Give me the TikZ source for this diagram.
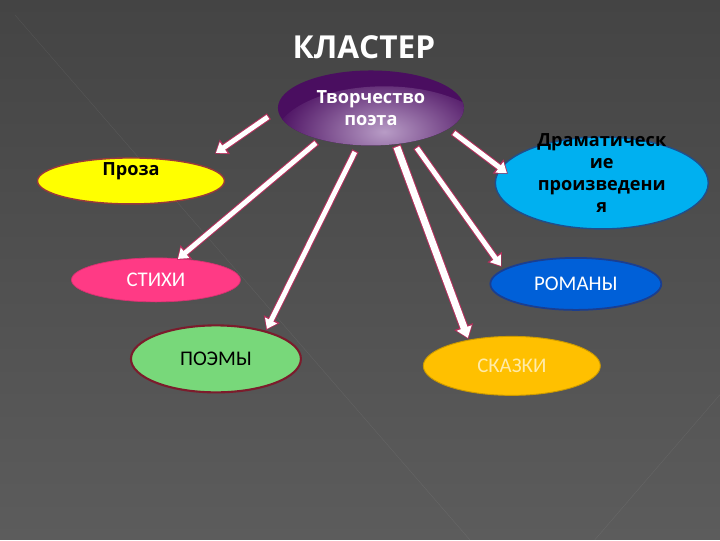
\documentclass[tikz,border=0pt]{standalone}
\usepackage{fontspec}
\setmainfont{Carlito}
\newfontfamily\headfont{Open Sans}
\usetikzlibrary{shapes.geometric,arrows.meta}

\definecolor{bgtop}{HTML}{444444}
\definecolor{bgbot}{HTML}{5C5C5C}
\definecolor{rim}{HTML}{B3305C}
\definecolor{poetdark}{HTML}{4A0E60}
\definecolor{poetlight}{HTML}{B89CC6}
\definecolor{prozafill}{HTML}{FFFF00}
\definecolor{prozarim}{HTML}{9A3A3A}
\definecolor{dramafill}{HTML}{00B0F0}
\definecolor{dramarim}{HTML}{1F4E8C}
\definecolor{stihifill}{HTML}{FF3A85}
\definecolor{poemyfill}{HTML}{78D87A}
\definecolor{poemyrim}{HTML}{7B1C2C}
\definecolor{romanyfill}{HTML}{0060D8}
\definecolor{romanyrim}{HTML}{1A3E90}
\definecolor{skazkifill}{HTML}{FFC000}
\definecolor{skazkitext}{HTML}{FFEBA8}

\begin{document}
\begin{tikzpicture}[x=0.03cm,y=-0.03cm,
	bubble/.style={ellipse,inner sep=0pt,font=\fontsize{17.8}{21}\selectfont},
	boldtext/.style={align=center,font=\headfont\bfseries\fontsize{15.5}{18.8}\selectfont},
	pointer/.style={draw=white,line width=4.2pt,-{Triangle[width=11pt,length=8pt]},
		preaction={draw=rim,line width=6pt,-{Triangle[width=14.5pt,length=10.5pt]},
			shorten >=-1.2pt,shorten <=-1pt}},
	bigpointer/.style={draw=white,line width=6pt,-{Triangle[width=13pt,length=9pt]},
		preaction={draw=rim,line width=7.8pt,-{Triangle[width=16.5pt,length=11.5pt]},
			shorten >=-1.2pt,shorten <=-1pt}}]
		% background
		\fill[top color=bgtop,bottom color=bgbot] (0,0) rectangle (720,540);
		\draw[white,opacity=0.07] (15,15) -- (470,540);
		\draw[white,opacity=0.07] (720,395) -- (595,540);
		\useasboundingbox (0,0) rectangle (720,540);

		\node[boldtext,text=white,font=\headfont\bfseries\fontsize{27}{30}\selectfont] (title) at (364,47) {КЛАСТЕР};

		% clusters
		\node[bubble,minimum width=5.58cm,minimum height=2.25cm,fill=poetdark,boldtext,text=white,
			path picture={\shade[inner color=poetlight,outer color=poetdark]
				([xshift=0.4cm,yshift=-0.95cm]path picture bounding box.center) ellipse (3.3cm and 1.6cm);}] (poet) at (371,108) {Творчество\\поэта};
		\node[bubble,minimum width=5.61cm,minimum height=1.38cm,fill=prozafill,draw=prozarim,line width=1.2pt] (proza) at (131,181) {};
		\node[boldtext] (prozatext) at ([yshift=8.5pt]proza.center) {Проза};
		\node[bubble,minimum width=6.39cm,minimum height=2.76cm,fill=dramafill,draw=dramarim,line width=1.2pt] (drama) at (602,183) {};
		\node[boldtext] (dramatext) at ([yshift=8.5pt]drama.center) {Драматическ\\ие\\произведени\\я};
		\node[bubble,minimum width=5.07cm,minimum height=1.32cm,fill=stihifill,draw=stihifill!85!black,line width=0.6pt,text=white] (stihi) at (156,280) {СТИХИ};
		\node[bubble,minimum width=5.1cm,minimum height=2.01cm,fill=poemyfill,draw=poemyrim,line width=1.8pt] (poemy) at (216,359) {ПОЭМЫ};
		\node[bubble,minimum width=5.13cm,minimum height=1.56cm,fill=romanyfill,draw=romanyrim,line width=1.5pt,text=white] (romany) at (576,284) {РОМАНЫ};
		\node[bubble,minimum width=5.31cm,minimum height=1.77cm,fill=skazkifill,draw=skazkifill!80!black,line width=0.8pt,text=skazkitext] (skazki) at (512,366) {СКАЗКИ};

		% arrow ends
		\coordinate (p1) at (268,117); \coordinate (q1) at (216,153);
		\coordinate (p2) at (316,143); \coordinate (q2) at (178,259);
		\coordinate (p3) at (355,152); \coordinate (q3) at (267,329);
		\coordinate (p4) at (397,147); \coordinate (q4) at (468,338);
		\coordinate (p5) at (417,148); \coordinate (q5) at (501,266);
		\coordinate (p6) at (454,133); \coordinate (q6) at (507,173);
		\draw[pointer] (p1) -- (q1);
		\draw[pointer] (p2) -- (q2);
		\draw[pointer] (p3) -- (q3);
		\draw[bigpointer] (p4) -- (q4);
		\draw[pointer] (p5) -- (q5);
		\draw[pointer] (p6) -- (q6);
\end{tikzpicture}
\end{document}
